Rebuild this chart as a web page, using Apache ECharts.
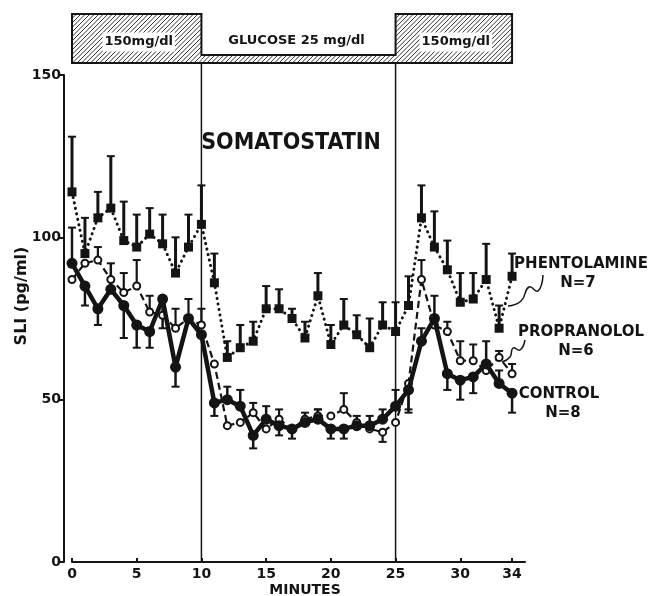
<!DOCTYPE html>
<html>
<head>
<meta charset="utf-8">
<title>SLI under somatostatin</title>
<script src="https://cdn.jsdelivr.net/npm/echarts@6/dist/echarts.min.js"></script>
<style>
  html, body { margin: 0; padding: 0; background: #fff; }
  #chart { width: 652px; height: 596px; }
</style>
</head>
<body>
<div id="chart"></div>
<script>
(function () {
  'use strict';

  // --- data (SLI, pg/ml, per minute) ---
  var minutes = [0, 1, 2, 3, 4, 5, 6, 7, 8, 9, 10, 11, 12, 13, 14, 15, 16, 17,
    18, 19, 20, 21, 22, 23, 24, 25, 26, 27, 28, 29, 30, 31, 32, 33, 34];

  var phentolamine = [114, 95, 106, 109, 99, 97, 101, 98, 89, 97, 104, 86, 63, 66, 68, 78, 78, 75,
    69, 82, 67, 73, 70, 66, 73, 71, 79, 106, 97, 90, 80, 81, 87, 72, 88];
  var phentolamineErr = [17, 11, 8, 16, 12, 10, 8, 9, 11, 10, 12, 9, 5, 7, 6, 7, 6, 3,
    5, 7, 6, 8, 6, 9, 7, 9, 9, 10, 11, 9, 9, 8, 11, 7, 7];

  var propranolol = [87, 92, 93, 87, 83, 85, 77, 76, 72, 75, 73, 61, 42, 43, 46, 41, 44, 41,
    44, 45, 45, 47, 43, 41, 40, 43, 55, 87, 73, 71, 62, 62, 59, 63, 58];
  var propranololErr = [0, 0, 4, 0, 6, 8, 5, 0, 6, 6, 5, 0, 0, 0, 3, 0, 3, 0,
    0, 2, 0, 5, 0, 0, -3, 0, -8, 6, 0, 3, 6, 5, 0, 2, 3];

  var control = [92, 85, 78, 84, 79, 73, 71, 81, 60, 75, 70, 49, 50, 48, 39, 44, 42, 41,
    43, 44, 41, 41, 42, 42, 44, 48, 53, 68, 75, 58, 56, 57, 61, 55, 52];
  var controlErr = [11, -6, -5, 8, -10, -7, -5, -9, -6, 0, 0, -4, 4, 5, -4, 4, -3, -3,
    3, 3, -3, -3, 3, 3, 3, 5, -7, 4, 7, -5, -6, -5, 7, 4, -6];

  var xTicks = [0, 5, 10, 15, 20, 25, 30, 34];
  var yTicks = [0, 50, 100, 150];

  // glucose infusion phases shown in the banner
  var phaseStart = [0, 10, 25];
  var phaseEnd = [10, 25, 34];
  var phaseLabel = ['150mg/dl', 'GLUCOSE 25 mg/dl', '150mg/dl'];
  var phaseHigh = [true, false, true];

  var INK = '#141414';
  var FONT = "'DejaVu Sans', sans-serif";

  var chart = echarts.init(document.getElementById('chart'), null, { renderer: 'canvas' });

  function pairs(values) {
    return minutes.map(function (t, i) { return [t, values[i]]; });
  }

  function errData(values, errs) {
    return minutes.map(function (t, i) { return [t, values[i], errs[i]]; });
  }

  function errSeries(name, values, errs, lw) {
    return {
      name: name + ' sem',
      type: 'custom',
      z: 1,
      silent: true,
      clip: false,
      encode: { x: 0, y: 1 },
      data: errData(values, errs),
      renderItem: function (params, api) {
        var e = api.value(2);
        if (!e) return null;
        var p0 = api.coord([api.value(0), api.value(1)]);
        var p1 = api.coord([api.value(0), api.value(1) + e]);
        return {
          type: 'group',
          children: [{
            type: 'line',
            shape: { x1: p0[0], y1: p0[1], x2: p1[0], y2: p1[1] },
            style: { stroke: INK, lineWidth: lw }
          }, {
            type: 'line',
            shape: { x1: p1[0] - 4, y1: p1[1], x2: p1[0] + 4, y2: p1[1] },
            style: { stroke: INK, lineWidth: 2 }
          }]
        };
      }
    };
  }

  chart.setOption({
    backgroundColor: '#fff',
    animation: false,
    grid: { left: 72, right: 127, top: 75, bottom: 34 },
    xAxis: {
      type: 'value',
      min: 0,
      max: 35,
      splitLine: { show: false },
      axisLine: { onZero: false, lineStyle: { color: INK, width: 2 } },
      axisTick: { inside: true, length: 4, customValues: xTicks, lineStyle: { color: INK, width: 2 } },
      axisLabel: {
        customValues: xTicks,
        margin: 5,
        color: INK,
        fontFamily: FONT,
        fontWeight: 'bold',
        fontSize: 14
      }
    },
    yAxis: {
      type: 'value',
      min: 0,
      max: 150,
      interval: 50,
      offset: 8,
      splitLine: { show: false },
      axisLine: { show: true, onZero: false, lineStyle: { color: INK, width: 2 } },
      axisTick: { show: true, length: 5, customValues: yTicks, lineStyle: { color: INK, width: 2 } },
      axisLabel: {
        margin: 3,
        color: INK,
        fontFamily: FONT,
        fontWeight: 'bold',
        fontSize: 14
      }
    },
    series: [
      errSeries('Phentolamine', phentolamine, phentolamineErr, 3),
      errSeries('Propranolol', propranolol, propranololErr, 2.2),
      errSeries('Control', control, controlErr, 2.5),
      {
        name: 'Phentolamine',
        type: 'line',
        z: 3,
        data: pairs(phentolamine),
        symbol: 'rect',
        symbolSize: 9,
        itemStyle: { color: INK },
        lineStyle: { color: INK, width: 3, type: [0.1, 5.5], cap: 'round' }
      },
      {
        name: 'Propranolol',
        type: 'line',
        z: 3,
        data: pairs(propranolol),
        symbol: 'circle',
        symbolSize: 7,
        itemStyle: { color: '#fff', borderColor: INK, borderWidth: 2 },
        lineStyle: { color: INK, width: 2.2, type: [7, 4] }
      },
      {
        name: 'Control',
        type: 'line',
        z: 4,
        data: pairs(control),
        symbol: 'circle',
        symbolSize: 11,
        itemStyle: { color: INK },
        lineStyle: { color: INK, width: 4.5 }
      }
    ]
  });

  function px(t) {
    return chart.convertToPixel({ xAxisIndex: 0 }, t);
  }

  // diagonal hatching (/) inside a box, as plain line segments
  function hatchLines(x0, y0, x1, y1, step) {
    var out = [];
    for (var k = x0 + y0 + step; k < x1 + y1; k += step) {
      var xa = Math.max(x0, k - y1), xb = Math.min(x1, k - y0);
      if (xb <= xa) continue;
      out.push({
        type: 'line',
        z: 5,
        shape: { x1: xa, y1: k - xa, x2: xb, y2: k - xb },
        style: { stroke: '#333', lineWidth: 1 }
      });
    }
    return out;
  }

  function text(str, x, y, size, extra) {
    var st = {
      text: str, x: x, y: y,
      font: 'bold ' + size + 'px ' + FONT,
      fill: INK,
      align: 'center',
      verticalAlign: 'middle'
    };
    for (var k in extra) st[k] = extra[k];
    return { type: 'text', z: 10, style: st };
  }

  function drawAnnotations() {
    var top = 14, low = 55, base = 63;
    var axisY = chart.convertToPixel({ yAxisIndex: 0 }, 0);
    var pts = [];
    var els = [];
    phaseStart.forEach(function (s, i) {
      var yTop = phaseHigh[i] ? top : low;
      pts.push([px(s), yTop], [px(phaseEnd[i]), yTop]);
      els = els.concat(hatchLines(px(s), yTop, px(phaseEnd[i]), base, 4.5));
    });
    pts.push([px(phaseEnd[phaseEnd.length - 1]), base], [px(phaseStart[0]), base]);

    els.push({
      type: 'polygon',
      z: 6,
      shape: { points: pts },
      style: { fill: null, stroke: INK, lineWidth: 2 }
    });

    phaseStart.forEach(function (s, i) {
      var cx = (px(s) + px(phaseEnd[i])) / 2;
      if (phaseHigh[i]) {
        els.push(text(phaseLabel[i], cx + 2, 42, 13, { backgroundColor: '#fff', padding: [3, 2] }));
      } else {
        els.push(text(phaseLabel[i], cx - 2, 41, 13));
      }
    });

    // somatostatin infusion window
    [10, 25].forEach(function (t) {
      els.push({
        type: 'line',
        z: 2,
        shape: { x1: px(t), y1: base, x2: px(t), y2: axisY },
        style: { stroke: INK, lineWidth: 1.5 }
      });
    });

    els.push(text('SOMATOSTATIN', 291, 143, 23, { font: 'bold 23px \'DejaVu Sans Condensed\', sans-serif' }));
    els.push(text('PHENTOLAMINE', 581, 264, 15));
    els.push(text('N=7', 578, 283, 15));
    els.push(text('PROPRANOLOL', 581, 332, 15));
    els.push(text('N=6', 576, 351, 15));
    els.push(text('CONTROL', 559, 394, 15));
    els.push(text('N=8', 563, 413, 15));
    els.push(text('MINUTES', 305, 590, 14));
    els.push({
      type: 'text',
      z: 10,
      x: 22,
      y: 296,
      rotation: Math.PI / 2,
      style: {
        text: 'SLI (pg/ml)',
        font: 'bold 16px ' + FONT,
        fill: INK,
        align: 'center',
        verticalAlign: 'middle'
      }
    });

    // leader squiggles
    els.push({
      type: 'polyline', z: 6,
      shape: { points: [[543, 275], [538, 291], [529, 287], [521, 301], [508, 306]], smooth: 0.5 },
      style: { stroke: INK, lineWidth: 1.5, fill: null }
    });
    els.push({
      type: 'polyline', z: 6,
      shape: { points: [[525, 340], [520, 350], [513, 348], [510, 357], [502, 362]], smooth: 0.5 },
      style: { stroke: INK, lineWidth: 1.5, fill: null }
    });

    chart.setOption({ graphic: { elements: els } });
  }

  drawAnnotations();
})();
</script>
</body>
</html>
